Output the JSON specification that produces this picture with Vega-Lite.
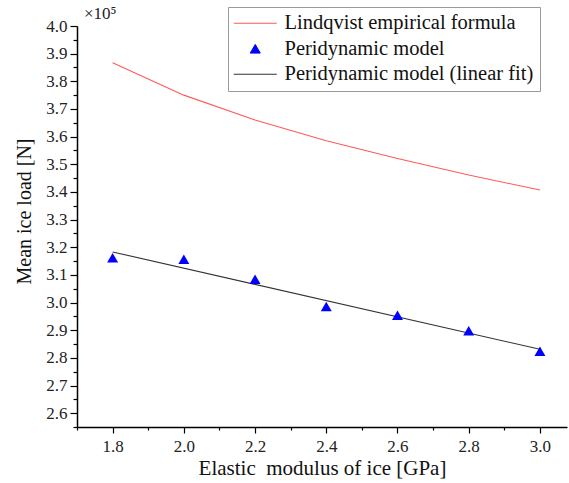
{
  "$schema": "https://vega.github.io/schema/vega-lite/v6.json",
  "width": 490,
  "height": 401,
  "autosize": {"type": "none"},
  "padding": {"left": 77, "top": 26, "right": 2, "bottom": 56},
  "background": "white",
  "config": {"view": {"stroke": null}, "font": "Liberation Serif"},
  "title": {"text": "×10⁵", "anchor": "start", "frame": "group", "dx": 7, "offset": -16, "fontSize": 17, "fontWeight": "normal", "font": "Liberation Serif", "color": "#222222"},
  "data": {"values": [
    {"series": "Lindqvist empirical formula", "E": 1.8, "F": 3.867},
    {"series": "Lindqvist empirical formula", "E": 2.0, "F": 3.750},
    {"series": "Lindqvist empirical formula", "E": 2.2, "F": 3.660},
    {"series": "Lindqvist empirical formula", "E": 2.4, "F": 3.585},
    {"series": "Lindqvist empirical formula", "E": 2.6, "F": 3.521},
    {"series": "Lindqvist empirical formula", "E": 2.8, "F": 3.461},
    {"series": "Lindqvist empirical formula", "E": 3.0, "F": 3.407},
    {"series": "Peridynamic model", "E": 1.8, "F": 3.162},
    {"series": "Peridynamic model", "E": 2.0, "F": 3.157},
    {"series": "Peridynamic model", "E": 2.2, "F": 3.084},
    {"series": "Peridynamic model", "E": 2.4, "F": 2.986},
    {"series": "Peridynamic model", "E": 2.6, "F": 2.954},
    {"series": "Peridynamic model", "E": 2.8, "F": 2.898},
    {"series": "Peridynamic model", "E": 3.0, "F": 2.824},
    {"series": "Peridynamic model (linear fit)", "E": 1.8, "F": 3.183},
    {"series": "Peridynamic model (linear fit)", "E": 3.0, "F": 2.831}
  ]},
  "encoding": {
    "x": {"field": "E", "type": "quantitative",
      "scale": {"domain": [1.7, 3.076], "nice": false, "zero": false},
      "axis": {"title": "Elastic\u00a0 modulus of ice [GPa]", "titleFont": "Liberation Serif", "titleFontSize": 21, "titleFontWeight": "normal", "titleColor": "#111111", "titlePadding": 3,
        "values": [1.7, 1.8, 1.9, 2.0, 2.1, 2.2, 2.3, 2.4, 2.5, 2.6, 2.7, 2.8, 2.9, 3.0],
        "labelExpr": "round(datum.value*10)%2==0 ? format(datum.value,'.1f') : ''",
        "labelFont": "Liberation Serif", "labelFontSize": 17, "labelColor": "#222222", "labelPadding": 5,
        "tickSize": {"condition": {"test": "round(datum.value*10)%2==0", "value": 6}, "value": 3},
        "tickColor": "#000000", "domainColor": "#000000", "domainWidth": 1.5, "tickWidth": 1.2, "grid": false, "labelFlush": false, "labelOverlap": false}},
    "y": {"field": "F", "type": "quantitative",
      "scale": {"domain": [2.55, 4.0], "nice": false, "zero": false},
      "axis": {"title": "Mean ice load [N]", "titleFont": "Liberation Serif", "titleFontSize": 20, "titleFontWeight": "normal", "titleColor": "#111111", "titlePadding": 11, "titleY": 185,
        "values": [2.55, 2.6, 2.65, 2.7, 2.75, 2.8, 2.85, 2.9, 2.95, 3.0, 3.05, 3.1, 3.15, 3.2, 3.25, 3.3, 3.35, 3.4, 3.45, 3.5, 3.55, 3.6, 3.65, 3.7, 3.75, 3.8, 3.85, 3.9, 3.95, 4.0],
        "labelExpr": "round(datum.value*20)%2==0 ? format(datum.value,'.1f') : ''",
        "labelFont": "Liberation Serif", "labelFontSize": 17, "labelColor": "#222222", "labelPadding": 3,
        "tickSize": {"condition": {"test": "round(datum.value*20)%2==0", "value": 7}, "value": 4},
        "tickColor": "#000000", "domainColor": "#000000", "domainWidth": 1.5, "tickWidth": 1.2, "grid": false, "labelOverlap": false, "labelFlush": false}},
    "color": {"field": "series", "type": "nominal",
      "scale": {"domain": ["Lindqvist empirical formula", "Peridynamic model", "Peridynamic model (linear fit)"], "range": ["#ff5a5a", "#0000ff", "#333333"]},
      "legend": {"orient": "none", "legendX": 151, "legendY": -19, "title": null,
        "strokeColor": "#999999", "fillColor": "white", "padding": 6,
        "labelFont": "Liberation Serif", "labelFontSize": 20.5, "labelColor": "#111111", "labelOffset": 19, "labelLimit": 0,
        "rowPadding": 4.5, "symbolSize": 100, "symbolOffset": 11, "symbolStrokeWidth": 1,
        "encode": {"symbols": {"update": {
          "shape": {"signal": "datum.value === 'Peridynamic model' ? 'triangle-up' : 'M-4.3,0H4.3'"},
          "size": {"value": 100},
          "fill": {"scale": "color", "field": "value"},
          "stroke": {"scale": "color", "field": "value"},
          "strokeWidth": {"value": 1},
          "opacity": {"value": 1}}}}}}
  },
  "layer": [
    {"transform": [{"filter": "datum.series !== 'Peridynamic model'"}],
     "mark": {"type": "line", "strokeWidth": 1.1}},
    {"transform": [{"filter": "datum.series === 'Peridynamic model'"}],
     "mark": {"type": "point", "shape": "triangle-up", "filled": true, "size": 120, "opacity": 1}}
  ]
}
